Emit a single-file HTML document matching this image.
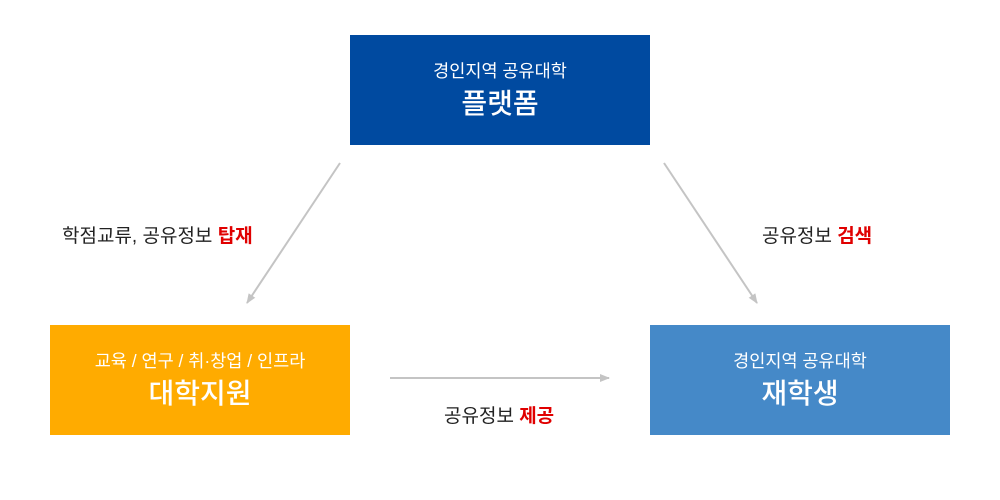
<!DOCTYPE html>
<html><head><meta charset="utf-8"><style>
body{margin:0;width:1000px;height:500px;background:#fff;position:relative;font-family:"Liberation Sans","Noto Sans CJK KR",sans-serif;overflow:hidden}
.b{position:absolute;width:300px;height:110px;color:#fff;text-align:center;box-sizing:border-box;padding-top:25px}
.s{font-size:17.5px;line-height:22px}
.l{font-size:28px;font-weight:500;line-height:38px;margin-top:3px}
.t{position:absolute;font-size:19px;color:#222;white-space:nowrap}
.r{color:#e00000;font-weight:bold}
</style></head><body>
<div class="b" style="left:350px;top:35px;background:#004aa0"><div class="s">경인지역 공유대학</div><div class="l">플랫폼</div></div>
<div class="b" style="left:50px;top:325px;background:#ffab00"><div class="s">교육 / 연구 / 취·창업 / 인프라</div><div class="l">대학지원</div></div>
<div class="b" style="left:650px;top:325px;background:#4589c8"><div class="s">경인지역 공유대학</div><div class="l">재학생</div></div>
<svg width="1000" height="500" style="position:absolute;left:0;top:0">
<defs><marker id="a" markerWidth="10" markerHeight="10" refX="9" refY="5" orient="auto" markerUnits="userSpaceOnUse"><path d="M0,1 L10,5 L0,9 z" fill="#c4c4c4"/></marker></defs>
<g stroke="#c4c4c4" stroke-width="2" marker-end="url(#a)">
<line x1="340" y1="163" x2="247" y2="303"/>
<line x1="664" y1="163" x2="757" y2="303"/>
<line x1="390" y1="378" x2="609" y2="378"/>
</g></svg>
<div class="t" style="left:62px;top:221px">학점교류, 공유정보 <span class="r">탑재</span></div>
<div class="t" style="left:762px;top:221px">공유정보 <span class="r">검색</span></div>
<div class="t" style="left:444px;top:401px">공유정보 <span class="r">제공</span></div>
</body></html>
